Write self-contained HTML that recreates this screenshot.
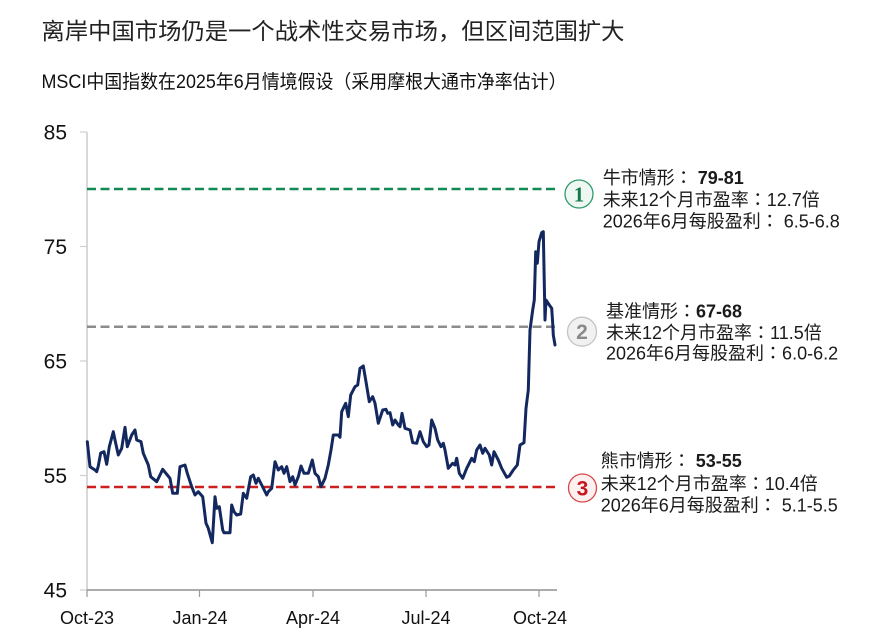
<!DOCTYPE html>
<html>
<head>
<meta charset="utf-8">
<style>
html,body{margin:0;padding:0;background:#fff;}
svg{display:block;}
text{font-family:"Liberation Sans","Noto Sans CJK SC",sans-serif;}
.ann text{font-family:"Liberation Sans","Noto Sans CJK TC",sans-serif;}
</style>
</head>
<body>
<svg width="888" height="641" viewBox="0 0 888 641" xmlns="http://www.w3.org/2000/svg">
<rect width="888" height="641" fill="#fff"/>
<!-- Title -->
<text x="41.5" y="39" font-size="23" fill="#222" textLength="583" lengthAdjust="spacingAndGlyphs">离岸中国市场仍是一个战术性交易市场，但区间范围扩大</text>
<text x="41.5" y="88" font-size="19" fill="#111" textLength="525" lengthAdjust="spacingAndGlyphs">MSCI中国指数在2025年6月情境假设（采用摩根大通市净率估计）</text>

<!-- Axes -->
<line x1="87" y1="132" x2="87" y2="590" stroke="#bdbdbd" stroke-width="1.2"/>
<g stroke="#cfcfcf" stroke-width="1.2">
<line x1="80" y1="132" x2="87" y2="132"/>
<line x1="80" y1="246.5" x2="87" y2="246.5"/>
<line x1="80" y1="361" x2="87" y2="361"/>
<line x1="80" y1="475.5" x2="87" y2="475.5"/>
<line x1="80" y1="590" x2="87" y2="590"/>
</g>
<line x1="87" y1="590" x2="557" y2="590" stroke="#7a7a7a" stroke-width="1.2"/>
<g stroke="#9a9a9a" stroke-width="1.2">
<line x1="87" y1="590" x2="87" y2="597"/>
<line x1="199.5" y1="590" x2="199.5" y2="597"/>
<line x1="313" y1="590" x2="313" y2="597"/>
<line x1="426" y1="590" x2="426" y2="597"/>
<line x1="539" y1="590" x2="539" y2="597"/>
</g>

<!-- Y labels -->
<g font-size="21" fill="#111" text-anchor="end">
<text x="67" y="139.5">85</text>
<text x="67" y="254">75</text>
<text x="67" y="368.5">65</text>
<text x="67" y="483">55</text>
<text x="67" y="597.5">45</text>
</g>
<!-- X labels -->
<g font-size="18" fill="#111" text-anchor="middle">
<text x="87" y="624">Oct-23</text>
<text x="200" y="624">Jan-24</text>
<text x="313" y="624">Apr-24</text>
<text x="426" y="624">Jul-24</text>
<text x="540" y="624">Oct-24</text>
</g>

<!-- Scenario lines -->
<line x1="87" y1="189" x2="556" y2="189" stroke="#138a55" stroke-width="2.5" stroke-dasharray="9,4.5"/>
<line x1="87" y1="326.7" x2="556" y2="326.7" stroke="#8c8c8c" stroke-width="2.5" stroke-dasharray="9,4.5"/>
<line x1="87" y1="487" x2="556" y2="487" stroke="#cc1f1f" stroke-width="2.5" stroke-dasharray="9,4.5"/>

<!-- Series -->
<polyline fill="none" stroke="#13285e" stroke-width="3" stroke-linejoin="round" stroke-linecap="round" points="
87.3,441.7 90,466.7 95,470 96.7,471.7 98.3,466 100.7,453 104,451.7 106.7,464.3 109.3,446.7 113.3,431.7 115,440 118.3,455 121.7,448.3 125,427.3 127.3,446.7 131.7,435 135,430 136.7,440 141,441.7 143.3,453.3 148.3,465 150.7,476.7 156.7,481.7 160,475 162.7,469.3 167.3,475 170,478.3 172.7,493.3 177.3,493.3 180,466.7 185,465 187.3,473.3 191.7,486.7 195,495 198.3,491.7 202.7,496.7 206,523.3 208.3,528.3 212.3,542.7 215,496.7 216.7,508.3 219.3,506.7 222.7,530 224,532.7 230,532.7 231.7,505 234,511.7 236.7,515 240.7,514 243.3,493.3 246.7,498.3 250.7,476.7 253.3,475 256,483.3 258.3,478.3 261.7,485 266.7,495 268.3,491.7 271.7,488.3 275,461.7 278.3,470 281.7,466.7 284,473.3 286.7,466.7 290,481.7 292.7,476.7 295,485 298.3,476.7 301,466 304,473.3 308.3,473.3 312.3,460 315,473.3 318.3,476.7 321,486.7 325,478.3 328.3,465 331,450 333.3,435 338.3,435 340,437.3 341.7,411.7 345.7,403.3 348.3,416.7 350.7,395 355,386.7 357.7,385 360,368.3 363.3,366 366,381.7 369.3,401.7 372.7,396.7 375,403.3 378.3,423.3 382.7,410 386,409.3 387.7,413.3 390,412.7 392.7,425 395,420 398.3,425 400,426.7 402,413.3 405,428.3 410,430 412.7,442.7 416.7,443.3 420,431.7 423.3,441.7 426.7,446.7 429,445 431.7,420 435,428.3 437.7,440 441,446.7 443.3,443.3 445,450 448.3,468.3 452.7,463.3 455,465 456.7,458.3 459.3,473.3 462.7,478.3 466.7,468.3 471.7,458.3 474.3,461.7 476.7,450 480,445 482.7,453.3 485,448.3 489.3,455 491.7,465 494,451.7 498.3,460 501.7,468.3 506.7,477.3 509.3,476 513.3,470 517.3,465 520,445 524,442.7 526,408.3 528.3,390 530,330 532.7,310 534.3,300 535.7,251.7 537.3,263.3 539,241.7 541.7,232.7 543.3,231.7 545,320 546,300 549.3,305 551.7,308.3 552.7,323.3 553.3,335 555,345"/>

<!-- Circles -->
<circle cx="579" cy="194" r="14" fill="#eef7f2" stroke="#2e9a6a" stroke-width="1.3"/>
<text x="579" y="201.5" font-size="21" font-weight="bold" fill="#137a4a" text-anchor="middle" style="font-family:'Liberation Serif',serif">1</text>
<circle cx="582" cy="331.7" r="14.5" fill="#f1f1f1" stroke="#c4c4c4" stroke-width="1.3"/>
<text x="582" y="339" font-size="21" font-weight="bold" fill="#8a8a8a" text-anchor="middle" style="font-family:'Liberation Sans',sans-serif">2</text>
<circle cx="582.5" cy="488" r="14" fill="#fcf0f0" stroke="#d44a4a" stroke-width="1.3"/>
<text x="582.5" y="495.5" font-size="21" font-weight="bold" fill="#c8161e" text-anchor="middle" style="font-family:'Liberation Sans',sans-serif">3</text>

<!-- Annotations -->
<g class="ann" font-size="18" fill="#1a1a1a">
<text x="602.7" y="184">牛市情形： <tspan font-weight="bold">79-81</tspan></text>
<text x="602.7" y="206">未来12个月市盈率：12.7倍</text>
<text x="602.7" y="227.5">2026年6月每股盈利： 6.5-6.8</text>

<text x="606" y="317.5">基准情形：<tspan font-weight="bold">67-68</tspan></text>
<text x="606" y="339">未来12个月市盈率：11.5倍</text>
<text x="606" y="359.5">2026年6月每股盈利：6.0-6.2</text>

<text x="600.7" y="467">熊市情形： <tspan font-weight="bold">53-55</tspan></text>
<text x="600.7" y="490">未来12个月市盈率：10.4倍</text>
<text x="600.7" y="511.5">2026年6月每股盈利： 5.1-5.5</text>
</g>
</svg>
</body>
</html>
